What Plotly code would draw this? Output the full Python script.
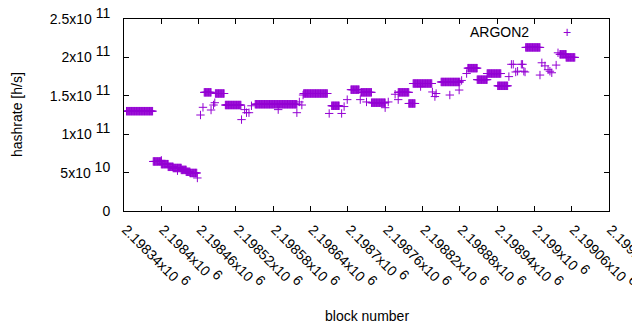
import plotly.graph_objects as go

# Runs of (nearly) constant hashrate: first block, last block, value [h/s]
run_start = [2198344, 2198387, 2198400, 2198411, 2198419, 2198432, 2198440, 2198446,
             2198469, 2198487, 2198503, 2198551, 2198629, 2198674, 2198705, 2198721,
             2198738, 2198781, 2198798, 2198805, 2198850, 2198893, 2198908, 2198924,
             2198941, 2198986, 2199041, 2199051]
run_end = [2198386, 2198400, 2198411, 2198419, 2198432, 2198440, 2198446, 2198457,
           2198480, 2198501, 2198528, 2198618, 2198667, 2198686, 2198718, 2198738,
           2198760, 2198798, 2198808, 2198835, 2198880, 2198908, 2198924, 2198946,
           2198957, 2199009, 2199051, 2199065]
run_value = [1.30e11, 6.45e10, 6.10e10, 5.75e10, 5.60e10, 5.35e10, 5.10e10, 4.95e10,
             1.545e11, 1.53e11, 1.38e11, 1.39e11, 1.53e11, 1.37e11, 1.58e11, 1.545e11,
             1.41e11, 1.545e11, 1.40e11, 1.66e11, 1.68e11, 1.86e11, 1.71e11, 1.79e11,
             1.63e11, 2.13e11, 2.04e11, 2.00e11]

# Isolated blocks
single_block = [2198400, 2198426, 2198458, 2198463, 2198467, 2198480, 2198484, 2198486,
                2198529, 2198534, 2198537, 2198541, 2198545, 2198588, 2198618, 2198622,
                2198626, 2198628, 2198670, 2198690, 2198694, 2198699, 2198720, 2198730,
                2198760, 2198765, 2198776, 2198781, 2198817, 2198836, 2198840, 2198842,
                2198864, 2198879, 2198883, 2198891, 2198959, 2198963, 2198966, 2198970,
                2198973, 2198979, 2198981, 2198983, 2198985, 2199009, 2199012, 2199017,
                2199022, 2199025, 2199028, 2199035, 2199038]
single_value = [6.6e10, 5.25e10, 4.3e10, 1.25e11, 1.35e11, 1.315e11, 1.38e11, 1.41e11,
                1.19e11, 1.32e11, 1.28e11, 1.28e11, 1.37e11, 1.32e11, 1.28e11, 1.42e11,
                1.38e11, 1.51e11, 1.27e11, 1.27e11, 1.36e11, 1.45e11, 1.45e11, 1.42e11,
                1.345e11, 1.42e11, 1.52e11, 1.45e11, 1.62e11, 1.55e11, 1.49e11, 1.53e11,
                1.51e11, 1.575e11, 1.70e11, 1.79e11, 1.75e11, 1.91e11, 1.91e11, 1.81e11,
                1.82e11, 1.91e11, 1.91e11, 1.82e11, 1.81e11, 1.77e11, 1.93e11, 1.89e11,
                1.84e11, 1.82e11, 1.80e11, 1.90e11, 2.06e11]

x_mant = ["2.19834", "2.1984", "2.19846", "2.19852", "2.19858", "2.19864", "2.1987",
          "2.19876", "2.19882", "2.19888", "2.19894", "2.199", "2.19906", "2.19912"]
x_exp = "6"
x_tickvals = [2198340 + 60 * i for i in range(14)]
y_mant = ["0", "5", "1", "1.5", "2", "2.5"]
y_exp = ["", "10", "11", "11", "11", "11"]
y_tickvals = [0, 5e10, 1e11, 1.5e11, 2e11, 2.5e11]

SUP = '<sup><span style="font-size:14px">{}</span></sup>'


def sci(m, e):
    return m if not e else m + "x10 " + SUP.format(e)


x_ticktext = [sci(m, x_exp) for m in x_mant]
y_ticktext = [sci(m, e) for m, e in zip(y_mant, y_exp)]

xs, ys = [], []
for s, e, v in zip(run_start, run_end, run_value):
    for b in range(s, e + 1):
        xs.append(b)
        ys.append(v)
xs += single_block
ys += single_value

COLOR = "#9400D3"
FONT = "Liberation Sans, Arial, sans-serif"

fig = go.Figure()
fig.add_trace(go.Scatter(
    x=xs, y=ys, mode="markers", name="ARGON2", showlegend=False,
    marker=dict(symbol="cross-thin", size=6, color=COLOR, line=dict(color=COLOR, width=1)),
))

# The page body has an 8px margin, so the figure is 8px smaller and margins shifted.
fig.update_layout(
    width=632, height=322,
    margin=dict(l=116, r=31, t=11, b=119),
    paper_bgcolor="white", plot_bgcolor="white",
    font=dict(family=FONT, size=14, color="black"),
    xaxis=dict(range=[2198340, 2199120], tickvals=x_tickvals, ticktext=x_ticktext,
               tickangle=45, ticks="inside", ticklen=5, tickcolor="black",
               showline=True, linecolor="black", linewidth=1, mirror="ticks",
               showgrid=False, zeroline=False, ticklabelstandoff=4, ticklabelshift=2,
               ticklabeloverflow="allow", automargin=False),
    yaxis=dict(range=[0, 2.5e11], tickvals=y_tickvals, ticktext=y_ticktext,
               ticks="inside", ticklen=5, tickcolor="black",
               showline=True, linecolor="black", linewidth=1, mirror="ticks",
               showgrid=False, zeroline=False, ticklabelstandoff=10,
               ticklabeloverflow="allow", automargin=False),
    annotations=[
        dict(text="hashrate [h/s]", xref="paper", yref="paper", x=-0.2206, y=0.5,
             textangle=-90, showarrow=False, xanchor="center", yanchor="middle"),
        dict(text="block number", xref="paper", yref="paper", x=0.5, y=-0.547,
             showarrow=False, xanchor="center", yanchor="middle"),
        dict(text="ARGON2", xref="paper", yref="paper", x=(531 - 124) / 485, y=(211 - 32) / 192,
             showarrow=False, xanchor="right", yanchor="middle"),
        dict(text="+", xref="paper", yref="paper", x=(567 - 124) / 485, y=(211 - 32) / 192,
             showarrow=False, xanchor="center", yanchor="middle", font=dict(color=COLOR)),
    ],
)

fig.write_html("out.html")
